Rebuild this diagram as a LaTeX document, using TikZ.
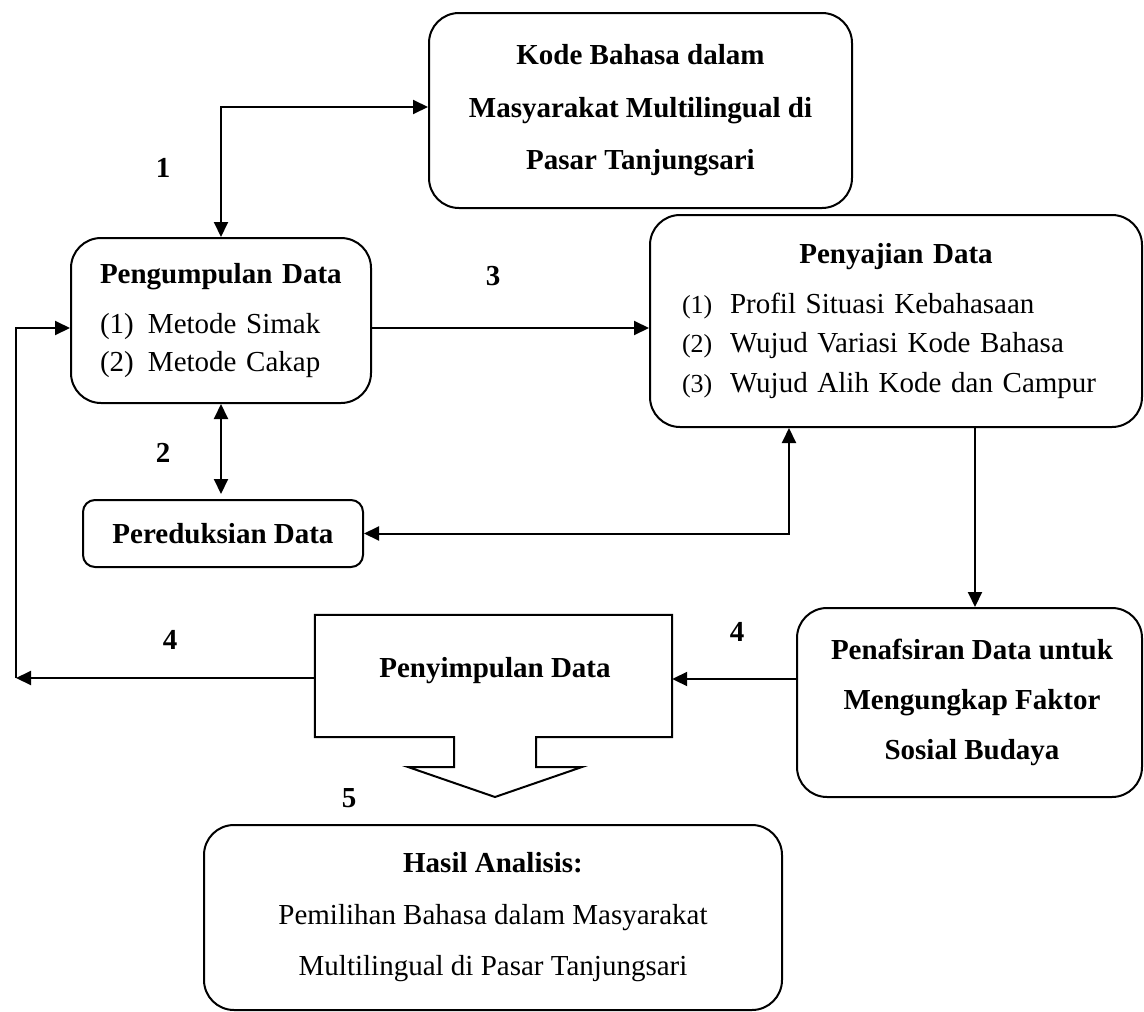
\documentclass[tikz,border=0pt]{standalone}
\usepackage{fontspec}
\setmainfont{Liberation Serif}
\usetikzlibrary{arrows.meta,calc}
\begin{document}
\begin{tikzpicture}[x=1pt,y=-1pt,
  box/.style={draw, line width=2pt, rounded corners=30pt, inner sep=0pt},
  arr/.style={line width=2pt, -{Triangle[length=15pt,width=14pt]}},
  darr/.style={line width=2pt, {Triangle[length=15pt,width=14pt]}-{Triangle[length=15pt,width=14pt]}},
  lbl/.style={font=\fontsize{29}{35}\selectfont\bfseries, inner sep=0pt},
]
\fill[white] (0,0) rectangle (1144,1012);
\useasboundingbox (0,0) rectangle (1144,1012);

% boxes
\node[box, minimum width=423pt, minimum height=195pt, align=center,
  font=\fontsize{29}{52.5}\selectfont\bfseries] (A) at (640.5,110.5)
  {Kode Bahasa dalam\\Masyarakat Multilingual di\\Pasar Tanjungsari};

\node[box, minimum width=300pt, minimum height=165pt, text width=242pt, align=left,
  font=\fontsize{29}{38}\selectfont] (B) at (221,320.5)
  {\textbf{Pengumpulan Data}\\[12pt]\makebox[48pt][l]{(1)}Metode Simak\\\makebox[48pt][l]{(2)}Metode Cakap};

\node[box, minimum width=492pt, minimum height=212pt, text width=428pt, align=left,
  font=\fontsize{29}{39.5}\selectfont] (C) at (896,321)
  {\makebox[428pt]{\textbf{Penyajian Data}}\\[10.5pt]%
   \makebox[48pt][l]{\fontsize{26}{39.5}\selectfont(1)}Profil Situasi Kebahasaan\\
   \makebox[48pt][l]{\fontsize{26}{39.5}\selectfont(2)}Wujud Variasi Kode Bahasa\\
   \makebox[48pt][l]{\fontsize{26}{39.5}\selectfont(3)}Wujud Alih Kode dan Campur};

\node[box, rounded corners=12pt, minimum width=280pt, minimum height=67pt,
  font=\fontsize{29}{35}\selectfont\bfseries] (D) at (223,533.5) {Pereduksian Data};

\node[box, minimum width=345pt, minimum height=189pt, align=center,
  font=\fontsize{29}{50}\selectfont\bfseries] (E) at (969.5,702.5)
  {\hspace*{5pt}Penafsiran Data untuk\\\hspace*{5pt}Mengungkap Faktor\\\hspace*{5pt}Sosial Budaya};

\node[minimum width=357pt, minimum height=122pt, inner sep=0pt] (F) at (493.5,676) {};
\draw[line width=2pt] (F.north west) -- (F.north east) -- (F.south east) -- (536,737)
  -- (536,767) -- (582,767) -- (495,797) -- (408,767) -- (454,767) -- (454,737)
  -- (F.south west) -- cycle;
\node[font=\fontsize{29}{35}\selectfont\bfseries, inner sep=0pt, anchor=base] (Ft) at (495,677) {Penyimpulan Data};

\node[box, minimum width=578pt, minimum height=185pt, align=center,
  font=\fontsize{29}{51.5}\selectfont] (G) at (493,917.5)
  {\textbf{Hasil Analisis:}\\Pemilihan Bahasa dalam Masyarakat\\Multilingual di Pasar Tanjungsari};

% labels
\node[lbl] (n1) at (163,168) {1};
\node[lbl] (n2) at (163,453) {2};
\node[lbl] (n3) at (493,276) {3};
\node[lbl] (n4a) at (170,640) {4};
\node[lbl] (n4b) at (737,632) {4};
\node[lbl] (n5) at (349,798) {5};

% connectors
\draw[darr] (B.north) |- ([yshift=3.5pt]A.west);
\draw[darr] (B.south) -- ([yshift=5pt]B.south |- D.north);
\draw[arr] ([yshift=-7.5pt]B.east) -- ([yshift=-7.5pt]B.east -| C.west);
\coordinate (cD) at (789,533.5);
\draw[darr] (D.east) -- (cD) -- (cD |- C.south);
\coordinate (cE) at (975,600);
\draw[arr] (C.south -| cE) -- (E.north -| cE);
\draw[arr] ([yshift=-3pt]F.east -| E.west) -- ([yshift=-3pt]F.east);
\coordinate (L) at (16,678);
\draw[arr] (F.west |- L) -- (L);
\draw[arr] (L) |- ([yshift=-7.5pt]B.west);
\end{tikzpicture}
\end{document}
